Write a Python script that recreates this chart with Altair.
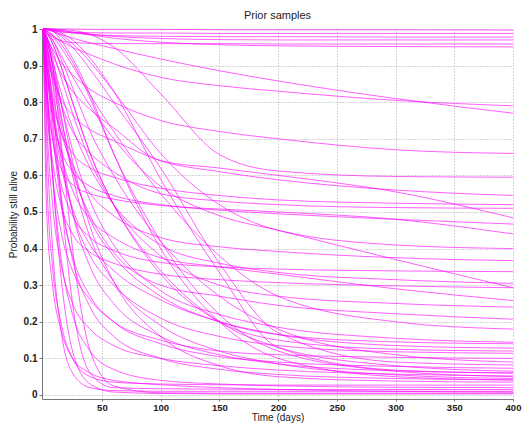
import altair as alt
import pandas as pd

TIMES = [0, 3, 8, 15, 25, 40, 60, 100, 150, 200, 300, 400]

HIGH_PLATEAU = [
    [1, 1, 1, 1, 1, 0.999, 0.999, 0.999, 0.998, 0.998, 0.998, 0.997],
    [1, 0.998, 0.995, 0.992, 0.99, 0.99, 0.989, 0.989, 0.988, 0.988, 0.988, 0.988],
    [1, 0.999, 0.997, 0.993, 0.989, 0.985, 0.982, 0.98, 0.979, 0.979, 0.978, 0.978],
    [1, 1, 0.999, 0.996, 0.992, 0.986, 0.98, 0.974, 0.971, 0.97, 0.97, 0.97],
    [1, 0.99, 0.978, 0.968, 0.963, 0.961, 0.96, 0.96, 0.96, 0.959, 0.959, 0.959],
    [1, 1, 0.999, 0.996, 0.991, 0.984, 0.975, 0.964, 0.957, 0.954, 0.952, 0.951],
]

SLOW_DECLINE = [
    [1, 0.998, 0.993, 0.985, 0.975, 0.962, 0.947, 0.918, 0.886, 0.858, 0.81, 0.77],
    [1, 0.993, 0.982, 0.967, 0.95, 0.93, 0.905, 0.868, 0.845, 0.83, 0.805, 0.79],
    [1, 0.975, 0.945, 0.91, 0.875, 0.835, 0.8, 0.75, 0.72, 0.70, 0.67, 0.66],
    [1, 1, 1, 0.999, 0.996, 0.985, 0.951, 0.823, 0.657, 0.612, 0.597, 0.595],
    [1, 0.999, 0.995, 0.985, 0.96, 0.91, 0.83, 0.66, 0.52, 0.45, 0.41, 0.4],
]

MID_PLATEAU = [
    [1, 0.93, 0.87, 0.81, 0.765, 0.725, 0.695, 0.64, 0.61, 0.588, 0.56, 0.545],
    [1, 0.97, 0.93, 0.88, 0.83, 0.78, 0.73, 0.64, 0.62, 0.60, 0.555, 0.484],
    [1, 0.9, 0.8, 0.72, 0.66, 0.62, 0.595, 0.565, 0.545, 0.533, 0.524, 0.52],
    [1, 0.95, 0.88, 0.8, 0.72, 0.66, 0.61, 0.55, 0.53, 0.52, 0.512, 0.51],
    [1, 0.88, 0.76, 0.67, 0.61, 0.57, 0.545, 0.52, 0.505, 0.495, 0.48, 0.467],
    [1, 0.83, 0.7, 0.62, 0.575, 0.55, 0.535, 0.518, 0.508, 0.5, 0.48, 0.44],
    [1, 0.92, 0.82, 0.72, 0.63, 0.55, 0.49, 0.43, 0.405, 0.392, 0.375, 0.367],
    [1, 0.99, 0.97, 0.93, 0.87, 0.79, 0.7, 0.57, 0.49, 0.45, 0.37, 0.293],
    [1, 0.85, 0.7, 0.58, 0.49, 0.43, 0.395, 0.362, 0.35, 0.344, 0.339, 0.337],
    [1, 0.9, 0.78, 0.66, 0.56, 0.48, 0.43, 0.375, 0.35, 0.33, 0.29, 0.258],
    [1, 0.8, 0.64, 0.52, 0.44, 0.39, 0.36, 0.33, 0.315, 0.307, 0.298, 0.293],
    [1, 0.95, 0.86, 0.74, 0.61, 0.49, 0.39, 0.3, 0.27, 0.245, 0.222, 0.207],
    [1, 0.98, 0.94, 0.87, 0.77, 0.64, 0.52, 0.38, 0.3, 0.27, 0.25, 0.24],
    [1, 0.97, 0.91, 0.83, 0.73, 0.62, 0.52, 0.41, 0.36, 0.335, 0.315, 0.305],
]

LOW_PLATEAU = [
    [1, 0.97, 0.9, 0.8, 0.67, 0.53, 0.41, 0.285, 0.22, 0.185, 0.155, 0.144],
    [1, 0.9, 0.77, 0.63, 0.51, 0.41, 0.34, 0.26, 0.2, 0.165, 0.135, 0.128],
    [1, 0.93, 0.8, 0.65, 0.5, 0.38, 0.3, 0.21, 0.16, 0.135, 0.118, 0.114],
    [1, 1, 0.998, 0.99, 0.97, 0.92, 0.83, 0.59, 0.335, 0.13, 0.068, 0.06],
    [1, 1, 0.995, 0.98, 0.95, 0.89, 0.8, 0.62, 0.36, 0.17, 0.09, 0.082],
    [1, 1, 0.995, 0.97, 0.92, 0.82, 0.66, 0.4, 0.2, 0.1, 0.05, 0.041],
    [1, 0.995, 0.98, 0.95, 0.9, 0.82, 0.72, 0.55, 0.38, 0.27, 0.2, 0.18],
    [1, 0.99, 0.96, 0.9, 0.8, 0.66, 0.52, 0.33, 0.2, 0.15, 0.125, 0.12],
    [1, 0.96, 0.88, 0.76, 0.62, 0.48, 0.38, 0.27, 0.2, 0.165, 0.145, 0.14],
    [1, 0.995, 0.985, 0.96, 0.91, 0.81, 0.66, 0.42, 0.22, 0.12, 0.065, 0.05],
    [1, 0.8, 0.6, 0.45, 0.34, 0.26, 0.2, 0.15, 0.12, 0.11, 0.103, 0.1],
    [1, 0.9, 0.72, 0.53, 0.38, 0.27, 0.2, 0.14, 0.105, 0.09, 0.078, 0.073],
    [1, 0.96, 0.85, 0.68, 0.5, 0.35, 0.25, 0.16, 0.11, 0.085, 0.066, 0.06],
    [1, 0.75, 0.52, 0.36, 0.25, 0.18, 0.135, 0.1, 0.08, 0.068, 0.057, 0.052],
    [1, 0.92, 0.75, 0.55, 0.37, 0.24, 0.16, 0.1, 0.07, 0.056, 0.045, 0.041],
    [1, 0.97, 0.9, 0.77, 0.6, 0.43, 0.31, 0.19, 0.12, 0.085, 0.055, 0.045],
    [1, 0.99, 0.96, 0.9, 0.8, 0.66, 0.52, 0.34, 0.2, 0.13, 0.08, 0.065],
    [1, 0.99, 0.97, 0.92, 0.84, 0.72, 0.6, 0.42, 0.27, 0.18, 0.11, 0.09],
    [1, 0.85, 0.6, 0.38, 0.22, 0.12, 0.07, 0.04, 0.03, 0.025, 0.021, 0.02],
    [1, 0.98, 0.92, 0.8, 0.64, 0.46, 0.31, 0.16, 0.08, 0.05, 0.038, 0.035],
]

FAST_DEATH = [
    [1, 0.7, 0.4, 0.18, 0.06, 0.02, 0.012, 0.01, 0.01, 0.01, 0.01, 0.01],
    [1, 0.85, 0.6, 0.33, 0.12, 0.03, 0.008, 0.004, 0.003, 0.003, 0.003, 0.003],
    [1, 0.95, 0.8, 0.55, 0.25, 0.06, 0.02, 0.017, 0.016, 0.015, 0.015, 0.015],
    [1, 0.6, 0.35, 0.2, 0.1, 0.05, 0.035, 0.03, 0.028, 0.027, 0.027, 0.027],
    [1, 0.98, 0.9, 0.7, 0.4, 0.12, 0.025, 0.006, 0.005, 0.005, 0.005, 0.005],
    [1, 0.5, 0.3, 0.18, 0.1, 0.06, 0.04, 0.028, 0.02, 0.015, 0.01, 0.008],
]

X_TICKS = [50, 100, 150, 200, 250, 300, 350, 400]
Y_TICKS = [0, 0.1, 0.2, 0.3, 0.4, 0.5, 0.6, 0.7, 0.8, 0.9, 1.0]

rows = []
groups = [("hp", HIGH_PLATEAU), ("sd", SLOW_DECLINE), ("mp", MID_PLATEAU),
          ("lp", LOW_PLATEAU), ("fd", FAST_DEATH)]
for gname, group in groups:
    for i, vals in enumerate(group):
        for t, v in zip(TIMES, vals):
            rows.append({"curve": f"{gname}{i}", "t": t, "s": v})
df = pd.DataFrame(rows)

chart = alt.Chart(df).mark_line(
    interpolate="monotone", color="#ff00ff", strokeWidth=0.9, opacity=0.7
).encode(
    x=alt.X("t:Q",
            scale=alt.Scale(domain=[-1, 400], nice=False, zero=False),
            axis=alt.Axis(values=X_TICKS, title="Time (days)", format="d",
                          labelFlush=False)),
    y=alt.Y("s:Q",
            scale=alt.Scale(domain=[-0.011, 1], nice=False, zero=False),
            axis=alt.Axis(values=Y_TICKS, title="Probability still alive", format=".1~f",
                          labelFlush=False)),
    detail="curve:N",
).properties(
    width=471, height=370,
    title=alt.TitleParams("Prior samples", fontSize=11, fontWeight="normal",
                          font="Liberation Sans", offset=3, color="#222222"),
    padding={"left": 34, "top": 21, "right": 9, "bottom": 24},
    autosize=alt.AutoSizeParams(type="none"),
).configure_view(stroke=None).configure_axis(
    labelFont="Liberation Sans", labelFontSize=10, labelFontWeight="bold",
    labelColor="#222222", titleFont="Liberation Sans", titleFontSize=10,
    titleFontWeight="normal", titleColor="#222222",
    domainColor="#777777", tickColor="#777777",
    grid=True, gridColor="#aaaaaa", gridDash=[1, 2], gridOpacity=1,
).configure_axisY(titlePadding=5, labelPadding=2, tickSize=3).configure_axisX(
    titlePadding=1, labelPadding=1, tickSize=2, labelFontSize=9.5)

chart.save("out.html", embed_options={"renderer": "svg", "actions": False})
